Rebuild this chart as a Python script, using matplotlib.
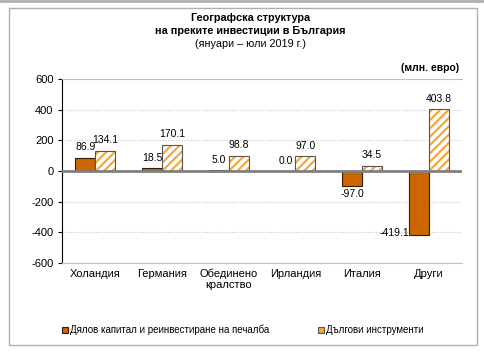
import numpy as np
import matplotlib.pyplot as plt
from matplotlib.patches import Rectangle, Patch
import matplotlib as mpl

plt.rcParams['font.family'] = ['Liberation Sans', 'DejaVu Sans']
plt.rcParams['axes.unicode_minus'] = False
mpl.rcParams['hatch.linewidth'] = 1.6

countries = ['Холандия', 'Германия', 'Обединено\nкралство', 'Ирландия', 'Италия', 'Други']
equity = [86.9, 18.5, 5.0, 0.0, -97.0, -419.1]
debt = [134.1, 170.1, 98.8, 97.0, 34.5, 403.8]
equity_name = 'Дялов капитал и реинвестиране на печалба'
debt_name = 'Дългови инструменти'

c_eq = '#CC6600'
c_debt = '#F5A93C'

fig = plt.figure(figsize=(4.84, 3.55), dpi=100)
ax = fig.add_axes([0.128, 0.259, 0.827, 0.518])

# frame around the whole chart
fig.patches.append(Rectangle((9/484, 1 - 345/355), 468/484, 337/355, transform=fig.transFigure,
                             fill=False, edgecolor='#b0b0b0', lw=1.0))
fig.add_artist(plt.Line2D([0, 1], [1 - 1/355, 1 - 1/355], transform=fig.transFigure,
                          color='#b0b0b0', lw=2))

x = np.arange(len(countries))
w = 0.3
ax.bar(x - w/2, equity, w, color=c_eq, edgecolor='#3a1a00', lw=0.8, zorder=3)
ax.bar(x + w/2, debt, w, color='white', edgecolor=c_debt, hatch='////', lw=0, zorder=3)
# dark gray outline on the hatched bars
ax.bar(x + w/2, debt, w, fill=False, edgecolor='#555555', lw=0.8, zorder=4)

ax.set_xlim(-0.5, 5.5)
ax.set_ylim(-600, 600)
ax.set_yticks(np.arange(-600, 601, 200))
ax.yaxis.grid(True, linestyle=(0, (1, 1.5)), color='#c8c8c8', lw=0.8)
ax.set_axisbelow(True)
ax.axhline(0, color='#808080', lw=2, zorder=5)
ax.spines['right'].set_visible(False)
ax.spines['top'].set_color('#c0c0c0')
ax.spines['bottom'].set_color('#c0c0c0')
ax.spines['left'].set_color('black')
ax.tick_params(axis='y', labelsize=8, length=3, pad=3)
ax.tick_params(axis='x', length=0, labelsize=8, pad=4)
ax.set_xticks(x)
ax.set_xticklabels(countries, linespacing=1.1)

for i, v in enumerate(equity):
    if v >= 0:
        ax.annotate(f'{v:.1f}', (x[i] - w/2, v), xytext=(0, 4), textcoords='offset points',
                    ha='center', va='bottom', fontsize=7.5, zorder=6)
    elif v > -200:
        ax.annotate(f'{v:.1f}', (x[i] - w/2, v), xytext=(0, -2), textcoords='offset points',
                    ha='center', va='top', fontsize=7.5, zorder=6)
    else:
        ax.annotate(f'{v:.1f}', (x[i] - w, v), xytext=(0, 2), textcoords='offset points',
                    ha='right', va='center', fontsize=7.5, zorder=6)
for i, v in enumerate(debt):
    ax.annotate(f'{v:.1f}', (x[i] + w/2, v), xytext=(0, 4), textcoords='offset points',
                ha='center', va='bottom', fontsize=7.5, zorder=6)

fig.text(0.517, 1 - 18/355, 'Географска структура', ha='center', va='center',
         fontsize=7.8, fontweight='bold')
fig.text(0.517, 1 - 31/355, 'на преките инвестиции в България', ha='center', va='center',
         fontsize=7.8, fontweight='bold')
fig.text(0.517, 1 - 44/355, '(януари – юли 2019 г.)', ha='center', va='center', fontsize=7.8)
fig.text(430/484, 1 - 68/355, '(млн. евро)', ha='center', va='center', fontsize=7.5, fontweight='bold')

handles = [Patch(facecolor=c_eq, edgecolor='#3a1a00', lw=0.8),
           Patch(facecolor=c_debt, edgecolor='#555555', lw=0.8)]
fig.legend(handles, [equity_name, debt_name], loc='center', bbox_to_anchor=(243/484, 1 - 330/355),
           ncol=2, frameon=False, fontsize=7, handlelength=0.6, handleheight=0.6,
           handletextpad=0.2, columnspacing=5.0)

fig.savefig('out.png', dpi=100)
